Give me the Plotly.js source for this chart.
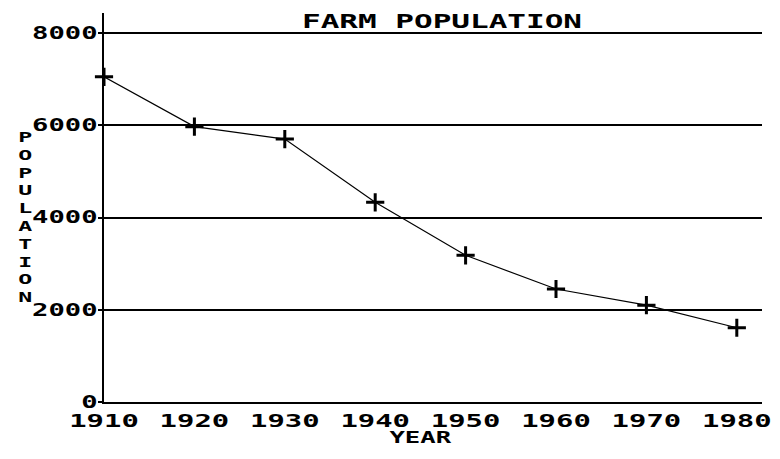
<!DOCTYPE html>
<html>
<head>
<meta charset="utf-8">
<script src="https://cdn.plot.ly/plotly-3.0.1.min.js"></script>
<style>
html,body{margin:0;padding:0;background:#fff;}
#chart{width:780px;height:459px;}
</style>
</head>
<body>
<div id="chart"></div>
<script>
// ---- data ----
const years = [1910, 1920, 1930, 1940, 1950, 1960, 1970, 1980];
const population = [7050, 5970, 5700, 4330, 3180, 2450, 2100, 1610];
const yTickVals = [0, 2000, 4000, 6000, 8000];
const yTickText = ["0", "2000", "4000", "6000", "8000"];
const xTickText = ["1910", "1920", "1930", "1940", "1950", "1960", "1970", "1980"];
const chartTitle = "FARM POPULATION";
const xTitle = "YEAR";
const yTitle = "POPULATION";

const FONT = "DejaVu Sans Mono, Liberation Mono, monospace";

// plot box in pixels
const L = 104, R = 762, T = 13, B = 402;
const pw = R - L, ph = B - T;

const annotations = [];
annotations.push({
  text: "<b>" + xTitle + "</b>", xref: "paper", yref: "paper",
  x: (420 - L) / pw, y: (B - 437) / ph, xanchor: "center", yanchor: "middle",
  showarrow: false, borderpad: 0, font: {family: FONT, size: 16, color: "#000"}
});
annotations.push({
  text: yTitle.split("").map(c => "<b>" + c + "</b>").join("<br>"),
  xref: "paper", yref: "paper",
  x: (25 - L) / pw, y: (B - 217) / ph, xanchor: "center", yanchor: "middle",
  showarrow: false, borderpad: 0, font: {family: FONT, size: 13.7, color: "#000"}
});

const trace = {
  x: years, y: population, type: "scatter", mode: "lines+markers",
  line: {color: "#000", width: 1.2, shape: "linear"},
  marker: {symbol: "cross-thin", size: 13, color: "#000", line: {color: "#000", width: 3}},
  cliponaxis: false, hoverinfo: "skip"
};

const layout = {
  width: 780, height: 459,
  margin: {l: L, r: 780 - R, t: T, b: 459 - B, pad: 0},
  paper_bgcolor: "#fff", plot_bgcolor: "#fff",
  showlegend: false,
  font: {family: FONT, color: "#000"},
  title: {
    text: "<b>" + chartTitle + "</b>", font: {family: FONT, size: 20, color: "#000"},
    x: 442 / 780, xanchor: "center", xref: "container",
    y: 1 - 20.5 / 459, yanchor: "middle", yref: "container"
  },
  xaxis: {
    range: [1910, 1910 + pw / 9.04], tickmode: "array", tickvals: years, ticktext: xTickText.map(t => "<b>" + t + "</b>"),
    showgrid: false, zeroline: false, showline: true, linecolor: "#000", linewidth: 2,
    ticks: "", ticklabelstandoff: 3, tickfont: {family: FONT, size: 17, color: "#000"}, fixedrange: true
  },
  yaxis: {
    range: [0, 8000 + (33 - T) / (ph / 8433) ], tickmode: "array", tickvals: yTickVals, ticktext: yTickText.map(t => "<b>" + t + "</b>"),
    showgrid: true, gridcolor: "#000", gridwidth: 2, zeroline: false,
    showline: true, linecolor: "#000", linewidth: 2,
    ticks: "outside", ticklen: 4, tickwidth: 2, tickcolor: "#000", ticklabelstandoff: -3,
    tickfont: {family: FONT, size: 17, color: "#000"}, fixedrange: true
  },
  annotations: annotations
};

function stretch(el, factor) {
  const w = el.getComputedTextLength();
  if (w > 0) {
    el.setAttribute("textLength", (w * factor).toFixed(1));
    el.setAttribute("lengthAdjust", "spacingAndGlyphs");
  }
}

Plotly.newPlot("chart", [trace], layout, {staticPlot: true, displayModeBar: false}).then(gd => {
  gd.querySelectorAll("g.xtick text").forEach(t => stretch(t, 1.7));
  gd.querySelectorAll("g.ytick text").forEach(t => stretch(t, 1.6));
  gd.querySelectorAll("text.gtitle").forEach(t => stretch(t, 1.55));
  gd.querySelectorAll("text.annotation-text").forEach(t => {
    const lines = t.querySelectorAll("tspan.line");
    if (lines.length) lines.forEach(s => stretch(s, 1.7));
    else stretch(t, 1.6);
  });
});
</script>
</body>
</html>
